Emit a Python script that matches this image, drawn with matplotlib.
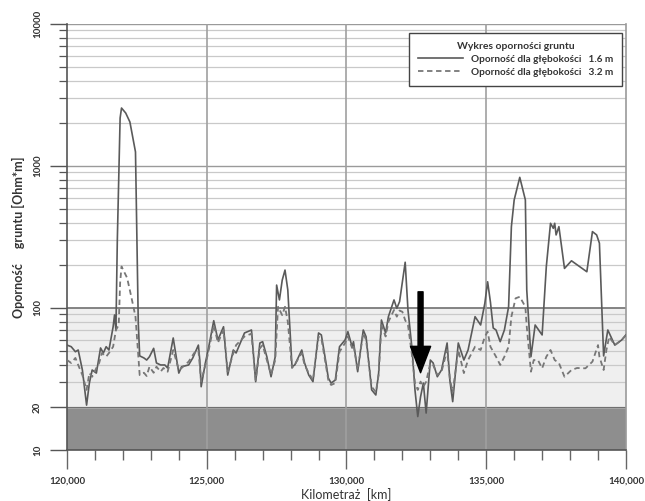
import numpy as np
import matplotlib.pyplot as plt
from matplotlib.ticker import FixedLocator, NullFormatter

plt.rcParams['font.family'] = ['Lato', 'DejaVu Sans']

# Resistivity at 1.6 m depth (chainage in m, value in Ohm*m)
km_16 = [120000, 120150, 120300, 120400, 120550, 120700, 120800, 120900, 121050, 121200,
         121300, 121400, 121500, 121650, 121700, 121750, 121800, 121900, 121950, 122100,
         122250, 122450, 122550, 122600, 122750, 122850, 122950, 123100, 123200, 123350,
         123500, 123600, 123800, 124000, 124100, 124350, 124500, 124700, 124750, 124800,
         124950, 125050, 125250, 125400, 125600, 125750, 125950, 126050, 126350, 126600,
         126750, 126900, 127000, 127150, 127300, 127450, 127500, 127600, 127700, 127800,
         127900, 128050, 128150, 128400, 128500, 128650, 128800, 129000, 129100, 129250,
         129350, 129450, 129600, 129750, 129950, 130050, 130200, 130250, 130400, 130600,
         130700, 130900, 131050, 131150, 131250, 131400, 131500, 131700, 131800, 131900,
         132100, 132200, 132350, 132450, 132550, 132650, 132750, 132850, 133000, 133100,
         133250, 133400, 133600, 133700, 133800, 134000, 134200, 134350, 134600, 134800,
         134950, 135050, 135150, 135250, 135350, 135500, 135650, 135800, 135900, 136000,
         136200, 136400, 136450, 136600, 136750, 137000, 137150, 137300, 137400, 137450,
         137500, 137600, 137800, 138050, 138600, 138800, 138950, 139050, 139150, 139200,
         139350, 139600, 139850, 140000]
res_16 = [54.8, 53.4, 49.2, 50.6, 36.6, 20.7, 29.6, 36.6, 34.8, 52.3,
          48.2, 53.4, 50.6, 73.8, 89.3, 70.0, 301, 2178, 2560, 2361,
          2042, 1256, 78.0, 46.0, 44.5, 43.0, 45.4, 52.0, 41.0, 39.7,
          39.7, 37.8, 61.5, 34.8, 38.6, 39.7, 44.5, 54.8, 43.0, 27.9,
          41.0, 50.6, 81.4, 59.6, 73.8, 33.7, 50.6, 48.2, 66.7, 70.0,
          30.3, 56.7, 57.9, 45.4, 32.8, 45.4, 145, 114, 157, 185,
          134, 38.6, 39.7, 50.6, 41.0, 33.7, 30.3, 66.7, 64.6, 43.0,
          32.1, 29.6, 31.1, 53.4, 59.6, 68.1, 53.4, 57.9, 35.6, 70.0,
          62.8, 26.5, 24.4, 34.8, 82.3, 66.7, 87.0, 114, 99.5, 111,
          210, 96.8, 50.6, 26.5, 17.2, 23.7, 29.6, 18.2, 43.0, 41.0,
          32.8, 36.6, 56.7, 30.8, 21.9, 56.7, 43.0, 50.6, 86.9, 75.9,
          108, 153, 110, 72.3, 70.0, 57.9, 70.0, 102, 374, 577,
          832, 577, 134, 45.4, 75.9, 64.6, 196, 395, 364, 395,
          327, 374, 190, 215, 180, 345, 327, 286, 87.0, 46.0,
          70.0, 54.8, 59.6, 64.6]

# Resistivity at 3.2 m depth
km_32 = [120000, 120150, 120300, 120400, 120550, 120700, 120800, 120900, 121050, 121150,
         121250, 121400, 121500, 121650, 121750, 121850, 121900, 121950, 122150, 122300,
         122450, 122600, 122750, 122850, 122950, 123100, 123200, 123350, 123450, 123600,
         123800, 124000, 124100, 124350, 124550, 124700, 124800, 124950, 125050, 125250,
         125400, 125600, 125750, 125950, 126050, 126350, 126600, 126750, 126900, 127000,
         127150, 127300, 127450, 127550, 127700, 127800, 127900, 128050, 128150, 128400,
         128500, 128650, 128800, 129000, 129100, 129250, 129350, 129450, 129600, 129750,
         129950, 130050, 130200, 130250, 130400, 130600, 130700, 130900, 131050, 131150,
         131250, 131400, 131500, 131700, 131800, 131900, 132000, 132100, 132200, 132350,
         132450, 132550, 132650, 132750, 132850, 133000, 133100, 133250, 133400, 133600,
         133700, 133800, 134000, 134200, 134350, 134600, 134800, 134950, 135050, 135150,
         135350, 135500, 135650, 135800, 135900, 136050, 136200, 136400, 136450, 136600,
         136700, 136850, 137000, 137150, 137300, 137450, 137600, 137800, 138050, 138250,
         138550, 138800, 139000, 139050, 139200, 139300, 139400, 139600, 139850, 140000]
res_32 = [43.0, 41.0, 44.5, 39.7, 33.7, 26.5, 34.8, 32.8, 37.8, 41.0,
          48.2, 45.4, 48.2, 53.4, 70.0, 75.9, 150, 196, 163, 120,
          86.9, 33.7, 35.0, 33.2, 38.6, 35.0, 38.6, 35.6, 37.8, 35.6,
          50.6, 36.6, 37.8, 41.9, 48.2, 50.6, 30.3, 39.7, 48.2, 75.9,
          57.0, 70.0, 35.6, 48.0, 54.8, 63.0, 66.0, 31.0, 52.0, 54.8,
          43.0, 34.0, 43.0, 102, 89.0, 102, 80.0, 37.8, 40.0, 48.2,
          39.7, 34.8, 31.1, 62.8, 61.5, 41.0, 31.1, 28.7, 29.6, 49.2,
          56.7, 63.0, 52.3, 55.0, 36.6, 66.7, 59.6, 27.9, 25.6, 33.7,
          75.9, 63.0, 80.0, 96.8, 86.9, 96.0, 94.0, 82.0, 75.9, 45.4,
          29.6, 26.5, 30.3, 27.9, 30.3, 41.0, 39.7, 33.7, 35.6, 50.6,
          31.5, 25.6, 50.6, 34.8, 43.0, 53.4, 50.6, 62.8, 68.1, 53.4,
          45.4, 39.7, 45.4, 53.4, 86.9, 117, 120, 102, 73.8, 35.6,
          43.0, 43.0, 37.6, 45.4, 50.6, 43.0, 41.0, 32.8, 36.6, 37.8,
          37.6, 41.9, 54.8, 45.4, 36.6, 50.6, 62.8, 54.8, 59.6, 64.6]

x_major = [120000, 125000, 130000, 135000, 140000]
x_labels = ['120,000', '125,000', '130,000', '135,000', '140,000']
x_minor = list(range(120000, 140001, 1000))
y_major = [10, 20, 100, 1000, 10000]
y_minor = [v * m for m in (10, 100, 1000) for v in range(2, 10)]

fig = plt.figure(figsize=(6.45, 5.01), dpi=100)
ax = fig.add_axes([0.1039, 0.1018, 0.8666, 0.8503])

# background bands
ax.axhspan(10, 20, color='#8e8e8e', zorder=0)
ax.axhspan(20, 100, color='#efefef', zorder=0)

# grid lines
for v in y_minor:
    if v >= 20:
        ax.axhline(v, color='#c9c9c9', lw=0.9, zorder=1)
for v in [1000, 10000]:
    ax.axhline(v, color='#9a9a9a', lw=1.0, zorder=1)
ax.axhline(100, color='#707070', lw=1.2, zorder=1)
ax.axhline(20, color='#707070', lw=0.8, zorder=1)
for v in x_major[1:-1]:
    ax.axvline(v, color='#a0a0a0', lw=1.2, zorder=1)

ax.plot(km_16, res_16, color='#5a5a5a', lw=1.2, zorder=3,
        label='Oporność dla głębokości   1.6 m')
ax.plot(km_32, res_32, color='#777777', lw=1.3, ls=(0, (3, 2)), zorder=3,
        label='Oporność dla głębokości   3.2 m')

# arrow
ax.annotate('', xy=(132650, 35), xytext=(132650, 130),
            arrowprops=dict(facecolor='black', edgecolor='black', width=3.6,
                            headwidth=14.5, headlength=19, shrink=0), zorder=5)

ax.set_yscale('log')
ax.set_xlim(120000, 140000)
ax.set_ylim(10, 10000)

ax.yaxis.set_major_locator(FixedLocator(y_major))
ax.yaxis.set_minor_locator(FixedLocator(y_minor))
ax.yaxis.set_minor_formatter(NullFormatter())
ax.set_yticklabels([str(v) for v in y_major], rotation=90, va='center',
                   fontsize=7, fontweight='bold', color='#333333')
ax.tick_params(axis='y', which='major', length=12, width=1.0, color='#555555', pad=6)
ax.tick_params(axis='y', which='minor', length=6, width=0.9, color='#555555')

ax.xaxis.set_major_locator(FixedLocator(x_major))
ax.xaxis.set_minor_locator(FixedLocator(x_minor))
ax.set_xticklabels(x_labels, fontsize=7, fontweight='bold', color='#333333')
ax.tick_params(axis='x', which='major', length=14, width=1.0, color='#666666', pad=5)
ax.tick_params(axis='x', which='minor', length=7, width=1.0, color='#666666')

for s in ['left', 'bottom']:
    ax.spines[s].set_color('#555555')
    ax.spines[s].set_linewidth(1.2)
ax.spines['right'].set_color('#9a9a9a')
ax.spines['right'].set_linewidth(1.2)
ax.spines['top'].set_visible(False)

ax.set_xlabel('Kilometraż  [km]', fontsize=9, color='#333333', labelpad=2)
ax.set_ylabel('Oporność     gruntu [Ohm*m]', fontsize=9, fontweight='bold',
              color='#333333', labelpad=6)

leg = ax.legend(title='Wykres oporności gruntu', loc='upper right',
                bbox_to_anchor=(0.993, 0.979), borderaxespad=0,
                prop={'size': 7.2, 'weight': 'bold'}, title_fontsize=7.5,
                handlelength=4.5, handletextpad=0.8, frameon=True, fancybox=False,
                framealpha=1, borderpad=0.9, labelspacing=0.4)
leg.get_frame().set_edgecolor('#444444')
leg.get_frame().set_linewidth(1.0)
leg.get_title().set_fontweight('bold')
for t in leg.get_texts():
    t.set_color('#333333')
leg.get_title().set_color('#333333')
leg.set_zorder(6)

plt.savefig('out.png', dpi=100)
